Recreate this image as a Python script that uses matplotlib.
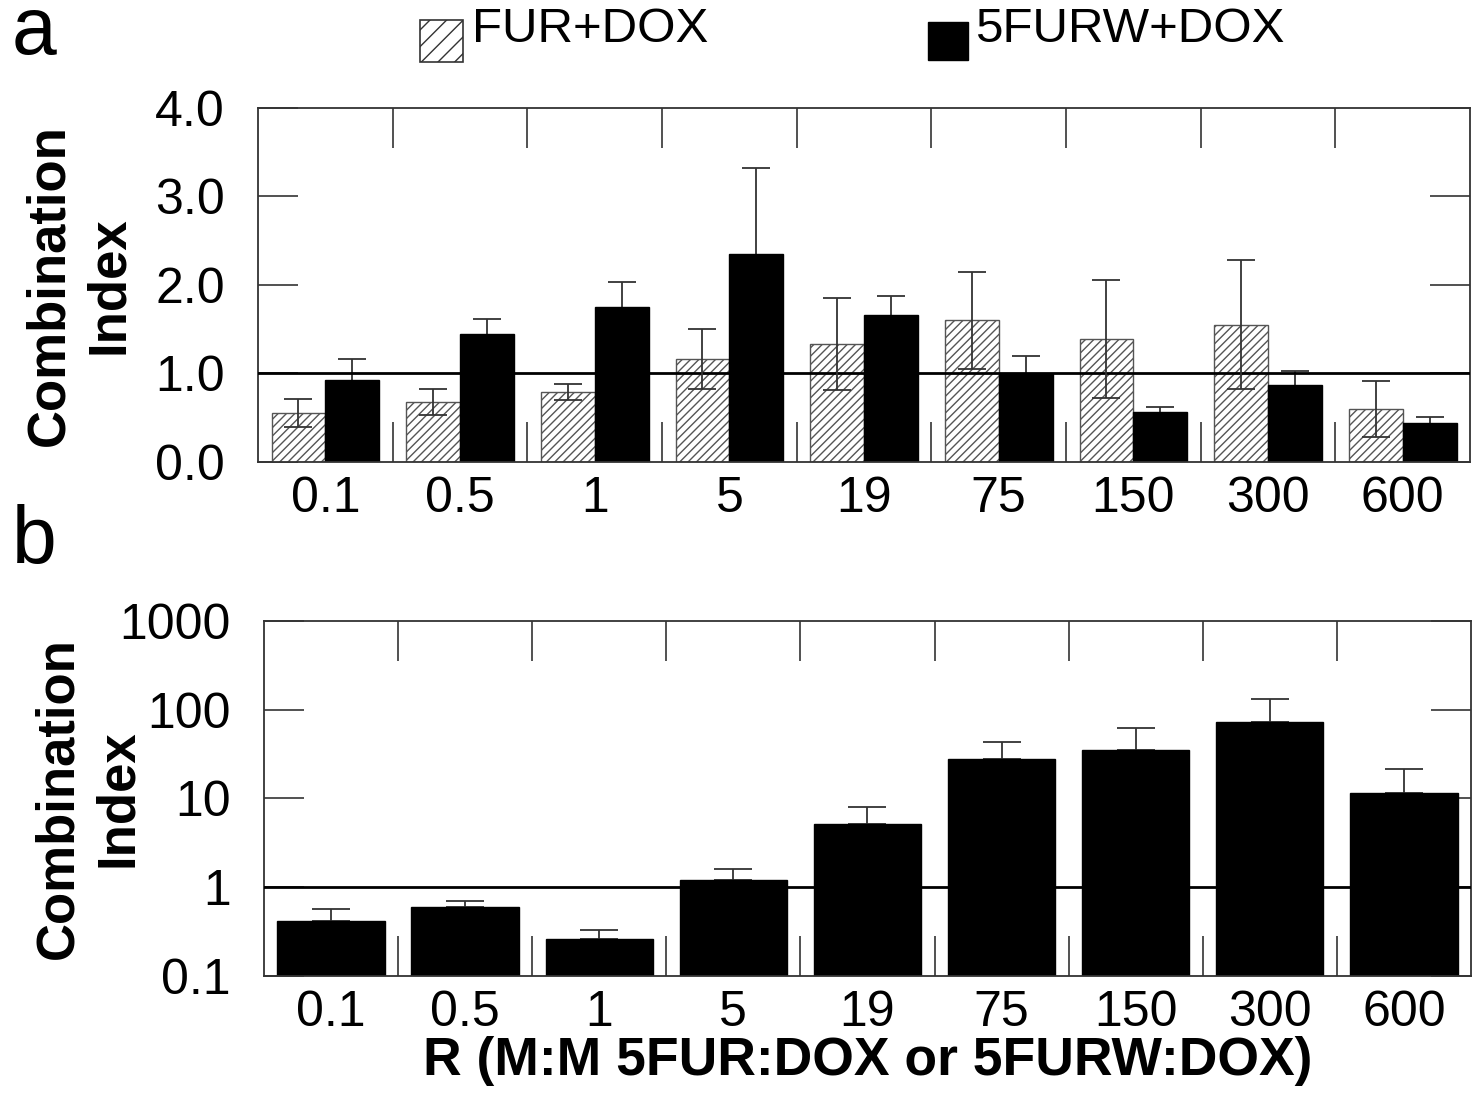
import numpy as np
import matplotlib
matplotlib.use("Agg")
import matplotlib.pyplot as plt
from matplotlib.patches import Rectangle

plt.rcParams['font.family'] = ['Liberation Sans', 'DejaVu Sans']
plt.rcParams['hatch.linewidth'] = 1.0
plt.rcParams['hatch.color'] = '#444444'

# razones molares
ratios = ['0.1', '0.5', '1', '5', '19', '75', '150', '300', '600']

# panel a: indice de combinacion
ci_fur = [0.55, 0.68, 0.79, 1.16, 1.33, 1.60, 1.39, 1.55, 0.60]
err_fur = [0.16, 0.15, 0.09, 0.34, 0.52, 0.55, 0.67, 0.73, 0.32]
ci_furw = [0.93, 1.45, 1.75, 2.35, 1.66, 0.99, 0.57, 0.87, 0.44]
err_furw = [0.23, 0.17, 0.28, 0.97, 0.22, 0.21, 0.05, 0.16, 0.07]

# panel b: escala logaritmica
ci_b = [0.42, 0.60, 0.26, 1.21, 5.2, 28.0, 35.0, 73.0, 11.5]
err_b = [0.15, 0.10, 0.07, 0.40, 2.8, 15.0, 27.0, 59.0, 10.0]

edge = '#333333'
fs = 36
x = np.arange(len(ratios))

fig = plt.figure(figsize=(14.72, 10.95), dpi=100)
ax1 = fig.add_axes([0.1753, 0.5781, 0.8234, 0.3233])
ax2 = fig.add_axes([0.1793, 0.1087, 0.8200, 0.3242])

# --- panel a ---
ax1.bar(x - 0.2, ci_fur, width=0.4, color='white', edgecolor='#555555',
        hatch='////', linewidth=1.0, zorder=2)
ax1.bar(x + 0.2, ci_furw, width=0.4, color='black', edgecolor='black',
        linewidth=1.0, zorder=2)
ax1.errorbar(x - 0.2, ci_fur, yerr=err_fur, fmt='none', ecolor=edge,
             elinewidth=1.3, capsize=10, capthick=1.3, zorder=4)
ax1.errorbar(x + 0.2, ci_furw, yerr=err_furw, fmt='none', ecolor=edge,
             elinewidth=1.3, capsize=10, capthick=1.3, zorder=1)
ax1.axhline(1.0, color='black', lw=2, zorder=3)
ax1.set_xlim(-0.5, len(ratios) - 0.5)
ax1.set_ylim(0, 4)
ax1.set_yticks([0, 1, 2, 3, 4])
ax1.set_yticklabels(['0.0', '1.0', '2.0', '3.0', '4.0'])

# --- panel b ---
ax2.bar(x, ci_b, width=0.8, color='black', edgecolor='black', linewidth=1.0,
        zorder=2)
ax2.errorbar(x, ci_b, yerr=[np.zeros(len(ci_b)), err_b], fmt='none',
             ecolor=edge, elinewidth=1.3, capsize=14, capthick=1.3, zorder=1)
ax2.axhline(1.0, color='black', lw=2, zorder=3)
ax2.set_yscale('log')
ax2.set_xlim(-0.5, len(ratios) - 0.5)
ax2.set_ylim(0.1, 1000)
ax2.set_yticks([0.1, 1, 10, 100, 1000])
ax2.set_yticklabels(['0.1', '1', '10', '100', '1000'])
ax2.minorticks_off()

for ax in (ax1, ax2):
    ax.set_xticks(x)
    ax.set_xticklabels(ratios)
    ax.set_xticks(x[:-1] + 0.5, minor=True)
    ax.tick_params(axis='x', which='major', length=0, pad=10, labelsize=fs)
    ax.tick_params(axis='x', which='minor', direction='in', length=29,
                   width=1.2, color=edge, top=True, bottom=True)
    ax.tick_params(axis='y', which='major', direction='in', length=29,
                   width=1.2, color=edge, left=True, right=True, pad=24,
                   labelsize=fs)
    for s in ax.spines.values():
        s.set_color(edge)
        s.set_linewidth(1.3)
    ax.set_ylabel('Combination\nIndex', fontsize=38, fontweight='bold',
                  linespacing=1.25)

ax1.yaxis.set_label_coords(-0.102, 0.5)
ax2.yaxis.set_label_coords(-0.100, 0.5)
ax2.set_xlabel('R (M:M 5FUR:DOX or 5FURW:DOX)', fontsize=38.5,
               fontweight='bold', labelpad=0)

# leyenda superior (dibujada a mano)
W, H = 1472.0, 1095.0
fig.add_artist(Rectangle((420 / W, 1 - 62 / H), 43 / W, 42 / H,
                         transform=fig.transFigure, facecolor='white',
                         edgecolor='#333333', linewidth=1.2, hatch='//'))
fig.add_artist(Rectangle((928 / W, 1 - 60 / H), 40 / W, 38 / H,
                         transform=fig.transFigure, facecolor='black',
                         edgecolor='black', linewidth=1.0))
fig.text(472 / W, 1 - 42 / H, 'FUR+DOX', fontsize=35.5, va='baseline')
fig.text(975 / W, 1 - 42 / H, '5FURW+DOX', fontsize=35.5, va='baseline')

fig.text(0.008, 1 - 54 / H, 'a', fontsize=58, va='baseline')
fig.text(0.008, 1 - 563 / H, 'b', fontsize=58, va='baseline')

fig.savefig('out.png', dpi=100)
